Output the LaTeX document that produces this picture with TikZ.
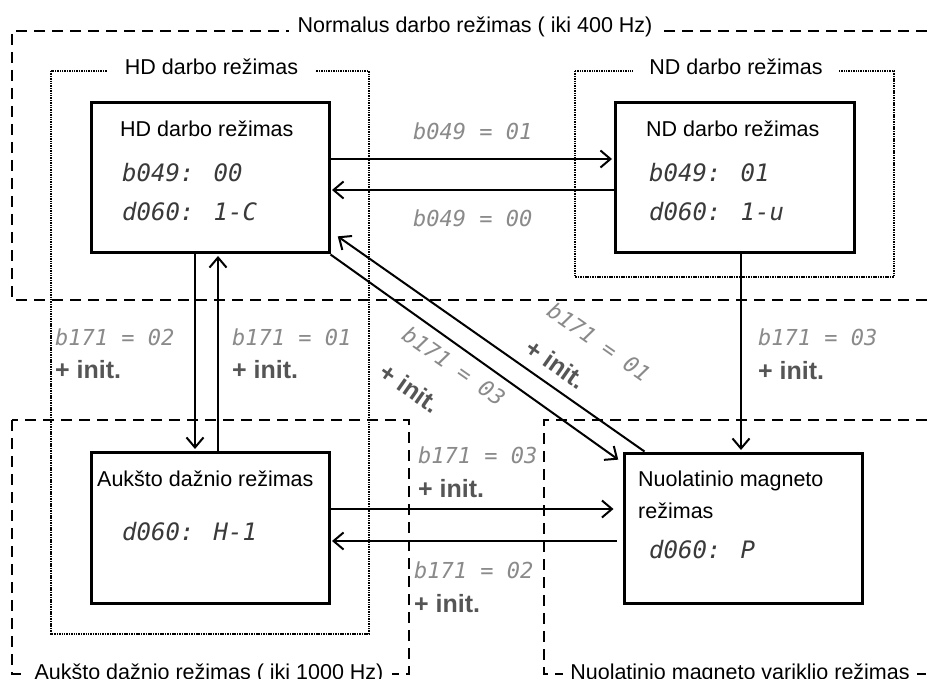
\documentclass[tikz,border=0pt]{standalone}
\usepackage{fontspec}
\setmainfont{Liberation Sans}
\newfontfamily\segfont{DejaVu Sans Mono}
\usetikzlibrary{arrows.meta}
\definecolor{seglight}{HTML}{8A8A8A}
\definecolor{segdark}{HTML}{3A3A3A}
\definecolor{initgray}{HTML}{555555}
\begin{document}
\begin{tikzpicture}[x=1pt,y=-1pt,
  every node/.style={font=\fontsize{21.5}{24}\selectfont},
  frameline/.style={line width=2.8pt, dash pattern=on 11pt off 7pt},
  dotframe/.style={line width=2.4pt, dash pattern=on 1.5pt off 0.9pt},
  modebox/.style={draw, line width=3pt, inner sep=0pt, minimum width=238pt, minimum height=150pt},
  frametitle/.style={fill=white, inner ysep=2pt, anchor=base},
  boxtext/.style={anchor=base west, inner sep=0pt},
  segin/.style={anchor=base west, font=\segfont\itshape\fontsize{24}{26}\selectfont, text=segdark, inner sep=0pt},
  seglab/.style={anchor=base west, font=\segfont\itshape\fontsize{22}{24}\selectfont, text=seglight, inner sep=0pt},
  initlab/.style={anchor=base west, font=\bfseries\fontsize{25}{27}\selectfont, text=initgray, inner sep=0pt},
  arr/.style={line width=2pt, -{Straight Barb[length=10pt,width=17pt,line width=2pt]}, shorten >=1.5pt},
]
\clip (0,0) rectangle (932,679);
\fill[white] (0,0) rectangle (932,679);

% frames
\draw[frameline] (945,31) -| (12,300) -- (945,300);
\draw[frameline] (12,420) rectangle (409,674);
\draw[frameline] (945,420) -| (544,674) -- (945,674);
\draw[dotframe] (51,71) rectangle (369,634);
\draw[dotframe] (575,71) rectangle (894,277);

% frame titles
\node[frametitle, inner xsep=8.5pt] (tn) at (475,33) {Normalus darbo režimas ( iki 400 Hz)};
\node[frametitle, inner xsep=16.5pt] (thd) at (211.5,75) {HD darbo režimas};
\node[frametitle, inner xsep=16pt] (tnd) at (736,75) {ND darbo režimas};
\node[frametitle, inner xsep=9pt] (thf) at (209,679) {Aukšto dažnio režimas ( iki 1000 Hz)};
\node[frametitle, inner xsep=7.5pt] (tpm) at (740,679) {Nuolatinio magneto variklio režimas};

% mode boxes
\node[modebox] (hd) at (210,178) {};
\node[modebox, minimum width=239pt] (nd) at (734.5,178) {};
\node[modebox, minimum height=151pt] (hf) at (210,527.5) {};
\node[modebox] (pm) at (743,528) {};

% box texts
\node[boxtext] (hdname) at (120,137) {HD darbo režimas};
\node[segin] (hdb) at (122,182) {b049: 00};
\node[segin] (hdd) at (122,221) {d060: 1-C};
\node[boxtext] (ndname) at (646,137) {ND darbo režimas};
\node[segin] (ndb) at (649,182) {b049: 01};
\node[segin] (ndd) at (649,221) {d060: 1-u};
\node[boxtext] (hfname) at (97,486) {Aukšto dažnio režimas};
\node[segin] (hfd) at (122,540) {d060: H-1};
\node[boxtext] (pmname) at (638,486) {Nuolatinio magneto};
\node[boxtext] (pmname2) at (638,518) {režimas};
\node[segin] (pmd) at (649,558) {d060: P};

% connectors
\draw[arr] ([yshift=19pt]hd.east) -- ([yshift=19pt]nd.west);
\draw[arr] ([yshift=-12pt]nd.west) -- ([yshift=-12pt]hd.east);
\draw[arr] ([xshift=-15pt]hd.south) -- ([xshift=-15pt]hf.north);
\draw[arr] ([xshift=8pt]hf.north) -- ([xshift=8pt]hd.south);
\draw[arr] ([xshift=6.5pt]nd.south) -- ([xshift=6.5pt]nd.south |- pm.north);
\draw[arr, shorten >=9pt] ([yshift=18.5pt]hf.east) -- ([yshift=18.5pt]hf.east -| pm.west);
\draw[arr, shorten <=6pt] ([yshift=-13.5pt]hf.east -| pm.west) -- ([yshift=-13.5pt]hf.east);
\draw[arr] (hd.south east) -- ([xshift=-3pt,yshift=-9pt]pm.north west);
\draw[arr] ([xshift=22pt]pm.north west) -- ([xshift=6pt,yshift=19pt]hd.south east);

% labels
\node[seglab] (l1) at (413,140) {b049 = 01};
\node[seglab] (l2) at (413,227) {b049 = 00};
\node[seglab] (l3) at (55,345) {b171 = 02};
\node[initlab] (i3) at (55,378) {+ init.};
\node[seglab] (l4) at (232,345) {b171 = 01};
\node[initlab] (i4) at (232,378) {+ init.};
\node[seglab] (l5) at (758,345) {b171 = 03};
\node[initlab] (i5) at (758,379) {+ init.};
\node[seglab] (l6) at (418,463) {b171 = 03};
\node[initlab] (i6) at (418,497) {+ init.};
\node[seglab] (l7) at (414,578) {b171 = 02};
\node[initlab] (i7) at (414,612) {+ init.};
\node[seglab, anchor=center, rotate=-35] (l8) at (454,366) {b171 = 03};
\node[initlab, anchor=center, rotate=-35] (i8) at (410,388) {+ init.};
\node[seglab, anchor=center, rotate=-35] (l9) at (599,342) {b171 = 01};
\node[initlab, anchor=center, rotate=-35] (i9) at (556,364) {+ init.};
\end{tikzpicture}
\end{document}
